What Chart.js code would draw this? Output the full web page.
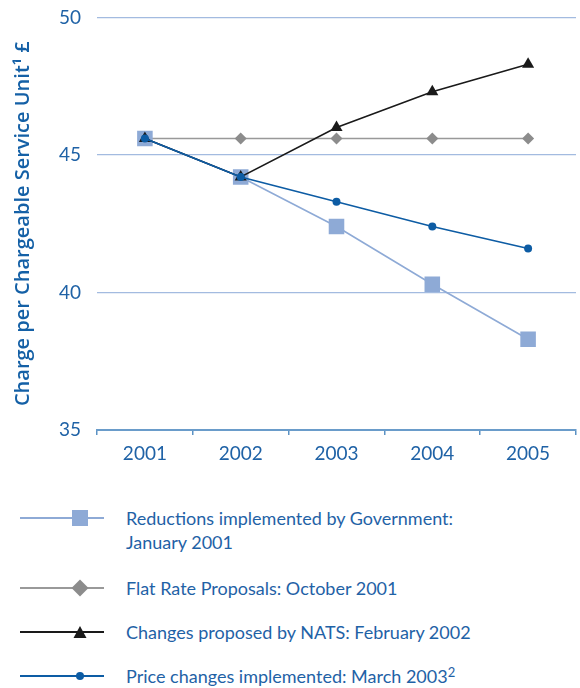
<!DOCTYPE html>
<html>
<head>
<meta charset="utf-8">
<script src="https://cdn.jsdelivr.net/npm/chart.js@4/dist/chart.umd.min.js"></script>
<style>
    body { margin: 0; background: #fff; font-family: Lato, sans-serif; overflow: hidden; }
    #wrap { position: relative; width: 580px; height: 688px; overflow: hidden; }
    #chartBox { position: absolute; left: 0; top: -10px; width: 587px; height: 490px; }
    .leg { position: absolute; left: 0; width: 580px; }
    .leg svg { position: absolute; left: 18px; top: 0; }
    .leg span { position: absolute; left: 126px; top: -12px; color: #1f62a6; font-size: 18px; line-height: 24px; width: 440px; }
</style>
</head>
<body>
<div id="wrap">
    <div id="chartBox"><canvas id="chart"></canvas></div>
    <div id="legend"></div>
</div>
<script>
const years = ['2001', '2002', '2003', '2004', '2005'];
const reductions = [45.6, 44.2, 42.4, 40.3, 38.3];
const flatRate = [45.6, 45.6, 45.6, 45.6, 45.6];
const natsChanges = [45.6, 44.2, 46.0, 47.3, 48.3];
const priceChanges = [45.6, 44.2, 43.3, 42.4, 41.6];
const yTicks = [35, 40, 45, 50];

const textBlue = '#1f62a6';

const series = [
    { label: 'Reductions implemented by Government:\nJanuary 2001', data: reductions, color: '#8eaad6', fill: '#8eaad6', style: 'rect', radius: 11, order: 2 },
    { label: 'Flat Rate Proposals: October 2001', data: flatRate, color: '#999999', fill: '#8c8c8c', style: 'rectRot', radius: 6, order: 3 },
    { label: 'Changes proposed by NATS: February 2002', data: natsChanges, color: '#1a1a1a', fill: '#1a1a1a', style: 'triangle', radius: 7, order: 1 },
    { label: 'Price changes implemented: March 2003\u00b2', data: priceChanges, color: '#0d5ca4', fill: '#0d5ca4', style: 'circle', radius: 4, order: 0 }
];

function initChart() {
    const ctx = document.getElementById('chart').getContext('2d');
    new Chart(ctx, {
        type: 'line',
        data: {
            labels: years,
            datasets: series.map(s => ({
                label: s.label,
                data: s.data,
                borderColor: s.color,
                borderWidth: 1.6,
                backgroundColor: s.fill,
                pointBackgroundColor: s.fill,
                pointBorderWidth: 0,
                pointStyle: s.style,
                pointRadius: s.radius,
                tension: 0,
                order: s.order
            }))
        },
        options: {
            responsive: true,
            maintainAspectRatio: false,
            animation: false,
            layout: { padding: 0 },
            plugins: {
                legend: { display: false },
                tooltip: { enabled: false }
            },
            scales: {
                x: {
                    offset: true,
                    grid: {
                        offset: true,
                        drawOnChartArea: false,
                        tickLength: 5,
                        color: '#5b92c4',
                        lineWidth: 1.5
                    },
                    border: { color: '#6a9cca', width: 2 },
                    ticks: { color: textBlue, font: { family: 'Lato', size: 19 }, padding: 7 },
                    afterFit: s => { s.height = 50; }
                },
                y: {
                    min: 35,
                    max: 50,
                    afterBuildTicks: s => { s.ticks = yTicks.map(v => ({ value: v })); },
                    grid: { color: '#a3bbe0', lineWidth: 1.2, drawTicks: false },
                    border: { display: false },
                    ticks: { color: textBlue, font: { family: 'Lato', size: 19 }, padding: 16 },
                    title: {
                        display: true,
                        text: 'Charge per Chargeable Service Unit\u00b9 \u00a3',
                        color: '#1460a6',
                        font: { family: 'Open Sans', size: 20, weight: '600' },
                        padding: { top: 11, bottom: 0 }
                    },
                    afterFit: s => { s.width = 97; }
                }
            }
        }
    });
}

function drawMarker(s) {
    const cx = 62, cy = 14;
    if (s.style === 'rect') return `<rect x="${cx - 8}" y="${cy - 8}" width="16" height="16" fill="${s.fill}"/>`;
    if (s.style === 'rectRot') return `<polygon points="${cx},${cy - 8.5} ${cx + 8.5},${cy} ${cx},${cy + 8.5} ${cx - 8.5},${cy}" fill="${s.fill}"/>`;
    if (s.style === 'triangle') return `<polygon points="${cx},${cy - 6} ${cx + 6.5},${cy + 6} ${cx - 6.5},${cy + 6}" fill="${s.fill}"/>`;
    return `<circle cx="${cx}" cy="${cy}" r="4" fill="${s.fill}"/>`;
}

function buildLegend() {
    const legend = document.getElementById('legend');
    const tops = [518, 588, 632, 676];
    series.forEach((s, i) => {
        const row = document.createElement('div');
        row.className = 'leg';
        row.style.top = (tops[i] - 14) + 'px';
        const lbl = s.label.replace('\n', '<br>').replace('\u00b2', '<sup style="font-size:13px;vertical-align:6px;line-height:0">2</sup>');
        row.innerHTML = `<svg width="90" height="28"><line x1="2" y1="14" x2="86" y2="14" stroke="${s.color}" stroke-width="1.8"/>${drawMarker(s)}</svg>` +
            `<span style="top:2px">${lbl}</span>`;
        legend.appendChild(row);
    });
}

document.addEventListener('DOMContentLoaded', function() {
    initChart();
    buildLegend();
});
</script>
</body>
</html>
